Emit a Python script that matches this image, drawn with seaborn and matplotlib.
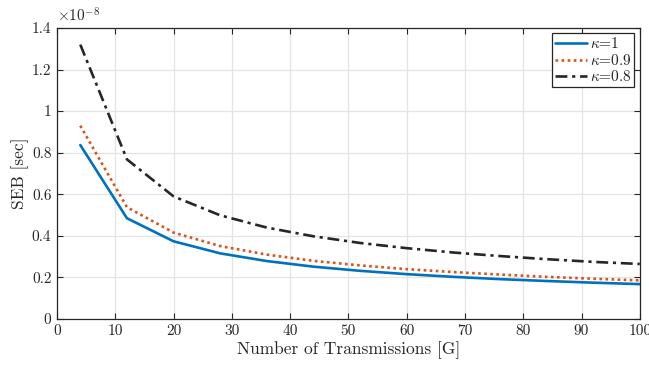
import matplotlib
matplotlib.use("Agg")
import matplotlib.pyplot as plt
import seaborn as sns
import pandas as pd

# Data (SEB in units of 1e-8 sec)
transmissions = [4, 12, 20, 28, 36, 44, 52, 60, 68, 76, 84, 92, 100]
seb_k1 = [0.837, 0.485, 0.374, 0.316, 0.279, 0.252, 0.232, 0.216, 0.203, 0.192, 0.183, 0.175, 0.168]
seb_k09 = [0.930, 0.538, 0.416, 0.351, 0.310, 0.280, 0.258, 0.240, 0.226, 0.214, 0.203, 0.194, 0.186]
seb_k08 = [1.320, 0.768, 0.590, 0.499, 0.440, 0.398, 0.366, 0.341, 0.320, 0.303, 0.288, 0.275, 0.265]
labels = [r"$\kappa$=1", r"$\kappa$=0.9", r"$\kappa$=0.8"]
xticks = [0, 10, 20, 30, 40, 50, 60, 70, 80, 90, 100]
yticks = [0, 0.2, 0.4, 0.6, 0.8, 1.0, 1.2, 1.4]
ytick_labels = ["0", "0.2", "0.4", "0.6", "0.8", "1", "1.2", "1.4"]

sns.set_theme(style="whitegrid")
plt.rcParams["font.family"] = ["serif"]
plt.rcParams["font.serif"] = ["cmr10", "DejaVu Serif"]
plt.rcParams["mathtext.fontset"] = "cm"
plt.rcParams["axes.unicode_minus"] = False
plt.rcParams["axes.formatter.use_mathtext"] = True

fig = plt.figure(figsize=(6.49, 3.68), dpi=100)
ax = fig.add_axes([0.0878, 0.133, 0.898, 0.791])

styles = [("#0072BD", (None)), ("#D95319", (0, (1, 1.3))), ("#262626", (0, (4.5, 1.8, 1.2, 1.8)))]
for ys, lab, (c, ls) in zip([seb_k1, seb_k09, seb_k08], labels, styles):
    df = pd.DataFrame({"x": transmissions, "y": ys})
    line_ls = "-" if ls is None else ls
    sns.lineplot(data=df, x="x", y="y", ax=ax, color=c, linestyle=line_ls,
                 linewidth=1.9, label=lab)

ax.set_xlim(0, 100)
ax.set_ylim(0, 1.4)
ax.set_xticks(xticks)
ax.set_xticklabels([str(v) for v in xticks])
ax.set_yticks(yticks)
ax.set_yticklabels(ytick_labels)
ax.set_facecolor("white")
ax.grid(True, color="#e3e3e3", linewidth=0.9)
for s in ax.spines.values():
    s.set_color("#262626")
    s.set_linewidth(0.9)
    s.set_visible(True)
ax.tick_params(direction="in", length=4, width=0.8, colors="#262626",
               labelsize=11, top=True, right=True, bottom=True, left=True,
               labelcolor="#262626", pad=4)
ax.set_xlabel("Number of Transmissions [G]", fontsize=12.5, color="#262626", labelpad=2)
ax.set_ylabel("SEB [sec]", fontsize=12.5, color="#262626", labelpad=2)
ax.text(0.0, 1.012, r"$\times10^{-8}$", transform=ax.transAxes, fontsize=11,
        color="#262626", ha="left", va="bottom")

leg = ax.legend(loc="upper right", fontsize=11, frameon=True, fancybox=False,
                borderpad=0.2, handlelength=2.1, handletextpad=0.2,
                labelspacing=0.1, borderaxespad=0.35)
leg.get_frame().set_edgecolor("#262626")
leg.get_frame().set_linewidth(0.9)
leg.get_frame().set_facecolor("white")
leg.get_frame().set_alpha(1)

fig.savefig("out.png", dpi=100)
